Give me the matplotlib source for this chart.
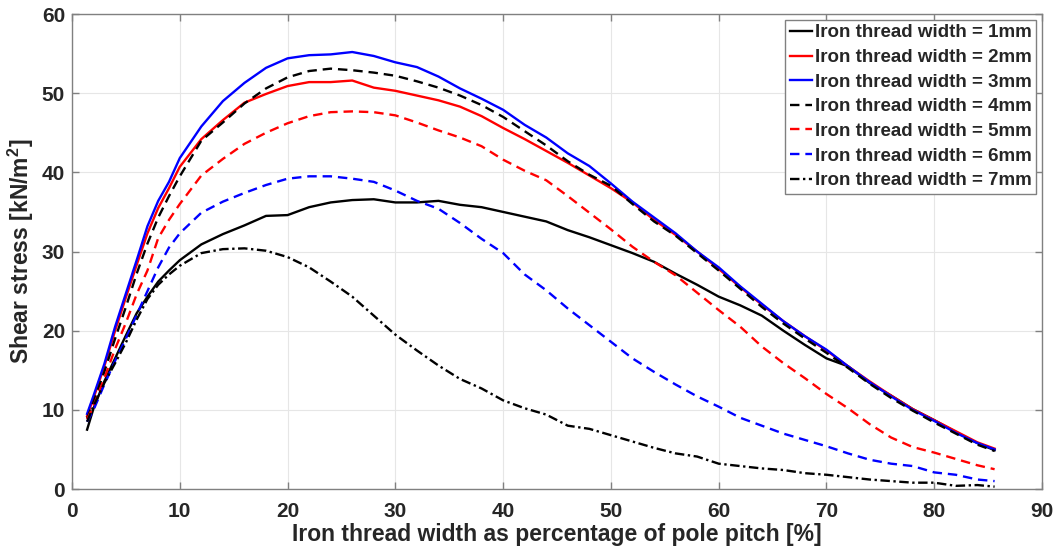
import matplotlib
matplotlib.use("Agg")
import matplotlib.pyplot as plt

# percentage of pole pitch
x_pct = [1.4, 2, 3, 4, 5, 6, 7, 8, 9, 10, 12, 14, 16, 18, 20, 22, 24, 26, 28, 30,
         32, 34, 36, 38, 40, 42, 44, 46, 48, 50, 52, 54, 56, 58, 60, 62, 64, 66, 68, 70,
         72, 74, 76, 78, 80, 82, 84, 85.6]

# shear stress [kN/m2] for each iron thread width
w1 = [7.5, 10.2, 13.6, 16.5, 19.4, 22.2, 24.3, 26.2, 27.6, 28.9, 30.9, 32.2, 33.3, 34.5, 34.6, 35.6,
      36.2, 36.5, 36.6, 36.2, 36.2, 36.4, 35.9, 35.6, 35.0, 34.4, 33.8, 32.7, 31.8, 30.8, 29.8, 28.7,
      27.2, 25.8, 24.3, 23.2, 21.9, 20.0, 18.2, 16.5, 15.5, 13.4, 11.8, 10.1, 8.7, 7.2, 5.8, 4.9]
w2 = [9.2, 11.5, 15.5, 20.0, 24.2, 28.3, 32.3, 35.5, 38.0, 40.7, 44.2, 46.6, 48.8, 49.9, 50.9, 51.4,
      51.4, 51.6, 50.7, 50.3, 49.7, 49.1, 48.3, 47.1, 45.6, 44.2, 42.7, 41.2, 39.6, 38.0, 36.2, 34.0,
      32.1, 30.0, 27.8, 25.5, 23.3, 21.2, 19.3, 17.5, 15.5, 13.6, 11.8, 10.1, 8.7, 7.3, 5.9, 5.1]
w3 = [9.5, 11.8, 15.8, 20.5, 24.7, 28.9, 33.2, 36.4, 38.8, 41.8, 45.8, 49.0, 51.3, 53.2, 54.4, 54.8,
      54.9, 55.2, 54.7, 53.9, 53.3, 52.1, 50.6, 49.3, 47.9, 46.0, 44.4, 42.4, 40.8, 38.6, 36.3, 34.3,
      32.3, 30.0, 28.0, 25.6, 23.4, 21.2, 19.3, 17.6, 15.5, 13.5, 11.7, 10.0, 8.6, 7.1, 5.8, 5.0]
w4 = [8.9, 11.0, 14.8, 19.0, 23.0, 27.2, 31.0, 34.3, 37.0, 39.5, 44.0, 46.3, 48.7, 50.6, 52.0, 52.8,
      53.1, 52.9, 52.6, 52.2, 51.5, 50.7, 49.7, 48.5, 47.0, 45.2, 43.4, 41.4, 39.7, 38.3, 36.0, 33.8,
      32.0, 29.8, 27.6, 25.3, 23.0, 20.9, 19.0, 17.2, 15.3, 13.3, 11.5, 9.9, 8.4, 7.0, 5.6, 4.8]
w5 = [8.8, 10.5, 14.0, 17.7, 21.0, 24.6, 27.6, 31.7, 34.0, 36.0, 39.6, 41.7, 43.6, 45.0, 46.2, 47.1,
      47.6, 47.7, 47.6, 47.2, 46.3, 45.3, 44.4, 43.3, 41.6, 40.2, 39.0, 37.0, 34.9, 32.8, 30.6, 28.7,
      27.0, 24.8, 22.6, 20.5, 18.0, 15.9, 14.0, 12.0, 10.2, 8.2, 6.5, 5.3, 4.6, 3.8, 3.0, 2.5]
w6 = [8.5, 10.0, 13.2, 16.2, 19.0, 22.0, 25.0, 28.0, 30.5, 32.3, 34.9, 36.3, 37.4, 38.4, 39.2, 39.5,
      39.5, 39.2, 38.8, 37.7, 36.4, 35.4, 33.6, 31.6, 29.8, 27.1, 25.1, 22.8, 20.7, 18.6, 16.5, 14.8,
      13.2, 11.7, 10.4, 9.0, 8.0, 7.0, 6.2, 5.4, 4.5, 3.7, 3.2, 2.9, 2.1, 1.8, 1.2, 1.0]
w7 = [8.5, 10.5, 13.4, 15.9, 18.5, 21.4, 24.0, 25.8, 27.1, 28.2, 29.8, 30.3, 30.4, 30.1, 29.3, 28.0,
      26.2, 24.3, 21.9, 19.5, 17.5, 15.6, 13.9, 12.7, 11.2, 10.2, 9.4, 8.0, 7.6, 6.8, 6.0, 5.2,
      4.5, 4.1, 3.2, 2.9, 2.6, 2.4, 2.0, 1.8, 1.5, 1.2, 1.0, 0.8, 0.8, 0.4, 0.5, 0.3]

series = [w1, w2, w3, w4, w5, w6, w7]
labels = ["Iron thread width = %dmm" % i for i in range(1, 8)]
colors = ["k", "r", "b", "k", "r", "b", "k"]
styles = ["-", "-", "-", (0, (4, 2.5)), (0, (4, 2.5)), (0, (4, 2.5)), (0, (4, 1.5, 1, 1.5))]


def main():
    plt.rcParams["font.family"] = ["Liberation Sans", "DejaVu Sans"]
    plt.rcParams["font.weight"] = "bold"
    plt.rcParams["mathtext.fontset"] = "custom"
    plt.rcParams["mathtext.rm"] = "Liberation Sans:bold"
    plt.rcParams["mathtext.it"] = "Liberation Sans:bold"
    plt.rcParams["mathtext.bf"] = "Liberation Sans:bold"

    fig = plt.figure(figsize=(10.62, 5.54), dpi=100)
    ax = fig.add_axes([0.0678, 0.1173, 0.9134, 0.8574])

    for y, lab, c, ls in zip(series, labels, colors, styles):
        ax.plot(x_pct, y, color=c, linestyle=ls, linewidth=1.7, label=lab)

    ax.set_xlim(0, 90)
    ax.set_ylim(0, 60)
    ax.set_xticks(range(0, 91, 10))
    ax.set_yticks(range(0, 61, 10))

    # estilo tipo matlab
    ax.grid(True, color="#e6e6e6", linewidth=0.8)
    ax.set_axisbelow(True)
    for sp in ax.spines.values():
        sp.set_color("#808080")
        sp.set_linewidth(1.0)
    ax.tick_params(direction="in", length=5, width=1.0, color="#808080",
                   labelsize=15, labelcolor="#262626", top=True, right=True)
    ax.tick_params(axis="x", pad=9)
    ax.tick_params(axis="y", pad=5)
    for t in ax.get_xticklabels() + ax.get_yticklabels():
        t.set_fontweight("bold")

    ax.set_xlabel("Iron thread width as percentage of pole pitch [%]", fontsize=16.5,
                  fontweight="bold", color="#262626", labelpad=2)
    ax.set_ylabel(r"Shear stress [kN/m$^{2}$]", fontsize=16.5, fontweight="bold",
                  color="#262626", labelpad=4)

    leg = ax.legend(loc="upper right", fontsize=13.5, frameon=True, fancybox=False,
                    edgecolor="#808080", framealpha=1, handlelength=1.2,
                    handletextpad=0.15, labelspacing=0.4, borderpad=0.25,
                    borderaxespad=0.3)
    leg.get_frame().set_linewidth(1.0)
    for t in leg.get_texts():
        t.set_fontweight("bold")
        t.set_color("#262626")

    fig.savefig("out.png", dpi=100)


if __name__ == "__main__":
    main()
